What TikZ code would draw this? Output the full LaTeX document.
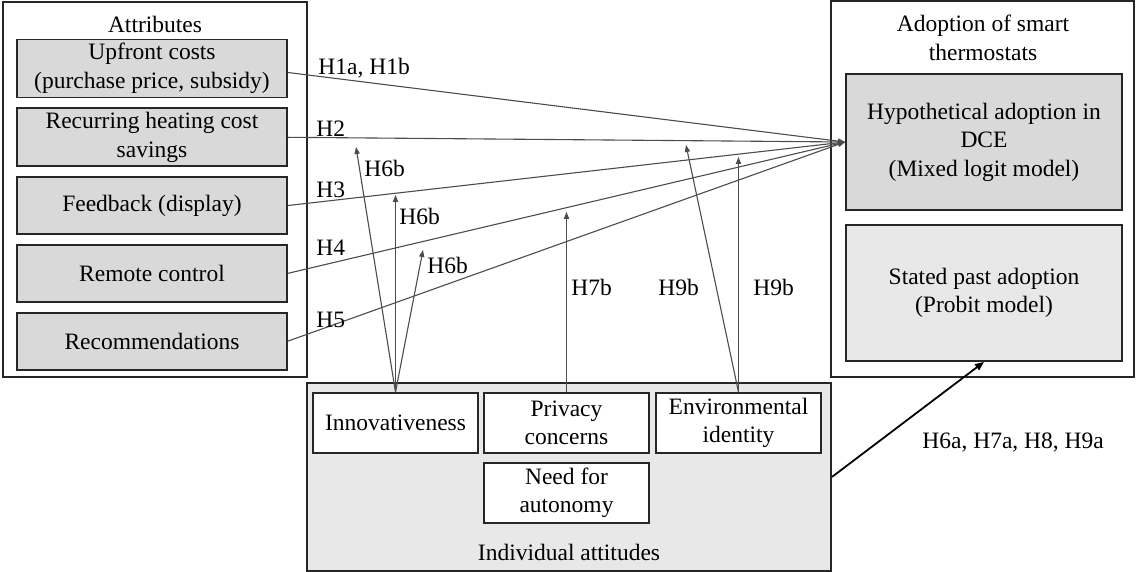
\documentclass[tikz,border=0pt]{standalone}
\usepackage{fontspec}
\setmainfont{Liberation Serif}
\usetikzlibrary{arrows.meta,positioning}

\begin{document}
\begin{tikzpicture}[
  x=0.5pt, y=-0.5pt,
  font=\fontsize{11.75}{14.25}\selectfont,
  frame/.style={draw=black!85, line width=0.9pt, inner sep=0pt},
  attrbox/.style={draw=black!85, line width=0.9pt, fill=black!15, align=center, minimum width=135pt, minimum height=28.5pt, inner sep=2pt},
  outbox/.style={draw=black!85, line width=0.9pt, align=center, minimum width=138pt, minimum height=68pt, inner sep=2pt},
  attbox/.style={draw=black!85, line width=0.9pt, fill=white, align=center, minimum width=82.5pt, minimum height=30pt, inner sep=2pt},
  hline/.style={-{Triangle[length=3.5pt,width=2.6pt]}, draw=black!70, line width=0.55pt},
  hlabel/.style={anchor=base west, inner sep=0pt},
  bigline/.style={-{Triangle[length=4.5pt,width=3.6pt]}, line width=0.9pt}
]
\useasboundingbox (0,0) rectangle (1136,572);

% frames
\node[frame, minimum width=152pt, minimum height=187.5pt] (attrframe) at (155,189.5) {};
\node[frame, minimum width=151.5pt, minimum height=188pt] (adoptframe) at (982.5,189) {};
\node[frame, fill=black!9, minimum width=262pt, minimum height=94pt] (attframe) at (569,477) {};

\node (attrtitle) at (155,24) {Attributes};
\node[align=center] (adopttitle) at (983,38) {Adoption of smart\\thermostats};
\node (atttitle) at (569,552) {Individual attitudes};

% attributes
\node[attrbox] (upfront) at (152,68.5) {Upfront costs\\(purchase price, subsidy)};
\node[attrbox, below=4.5pt of upfront] (recurring) {Recurring heating cost\\savings};
\node[attrbox, below=4.5pt of recurring] (feedback) {Feedback (display)};
\node[attrbox, below=4.5pt of feedback] (remote) {Remote control};
\node[attrbox, below=4.5pt of remote] (recommend) {Recommendations};

% adoption
\node[outbox, fill=black!15] (hyp) at (984,142) {Hypothetical adoption in\\DCE\\(Mixed logit model)};
\node[outbox, fill=black!9, below=6.6pt of hyp] (stated) {Stated past adoption\\(Probit model)};

% attitudes
\node[attbox] (innov) at (395.5,423) {Innovativeness};
\node[attbox, right=2.1pt of innov] (privacy) {Privacy\\concerns};
\node[attbox, right=2.6pt of privacy] (envid) {Environmental\\identity};
\node[attbox, below=4.1pt of privacy] (autonomy) {Need for\\autonomy};

% main effects
\draw[hline] ([yshift=-2pt]upfront.east) -- (hyp.west);
\draw[hline] (recurring.east) -- (hyp.west);
\draw[hline] (feedback.east) -- (hyp.west);
\draw[hline] (remote.east) -- (hyp.west);
\draw[hline] (recommend.east) -- (hyp.west);
\node[hlabel] (h1) at (318,75) {H1a, H1b};
\node[hlabel] (h2) at (316,137) {H2};
\node[hlabel] (h3) at (316,198) {H3};
\node[hlabel] (h4) at (316,256) {H4};
\node[hlabel] (h5) at (316,328) {H5};

% moderating effects
\coordinate (m6x) at (356,147);
\coordinate (m6y) at (innov.north |- 0,195);
\coordinate (m6z) at (423,250);
\coordinate (m7) at (privacy.north |- 0,212);
\coordinate (m9x) at (686,145);
\coordinate (m9y) at (envid.north |- 0,157);
\draw[hline] (innov.north) -- (m6x);
\draw[hline] (innov.north) -- (m6y);
\draw[hline] (innov.north) -- (m6z);
\draw[hline] (privacy.north) -- (m7);
\draw[hline] (envid.north) -- (m9x);
\draw[hline] (envid.north) -- (m9y);
\node[hlabel] (h6x) at (364,177) {H6b};
\node[hlabel] (h6y) at (399,225) {H6b};
\node[hlabel] (h6z) at (427,274) {H6b};
\node[hlabel] (h7) at (571,296) {H7b};
\node[hlabel] (h9x) at (658,296) {H9b};
\node[hlabel] (h9y) at (753,296) {H9b};

% past adoption
\draw[bigline] (attframe.east) -- (stated.south);
\node[hlabel] (h6a) at (922,449) {H6a, H7a, H8, H9a};
\end{tikzpicture}
\end{document}
